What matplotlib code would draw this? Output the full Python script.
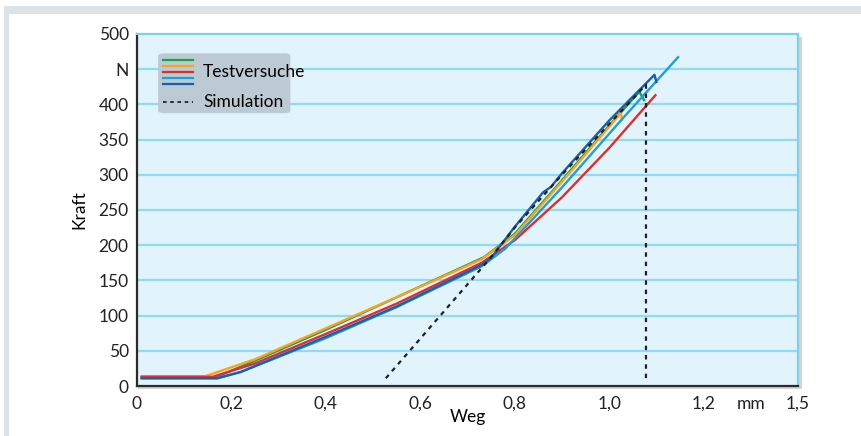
import matplotlib.pyplot as plt
from matplotlib.patches import Rectangle, FancyBboxPatch
from matplotlib.lines import Line2D

# Testversuche (Weg in mm, Kraft in N)
green_x = [0.01, 0.165, 0.25, 0.40, 0.55, 0.735, 0.80, 0.90, 1.00, 1.064, 1.074]
green_y = [12, 12, 36, 80, 126, 183, 216, 292, 370, 418, 406]

orange_x = [0.01, 0.145, 0.25, 0.40, 0.55, 0.73, 0.80, 0.90, 1.00, 1.025, 1.027]
orange_y = [14, 14, 38, 82, 126, 180, 214, 290, 368, 388, 378]

red_x = [0.01, 0.16, 0.25, 0.40, 0.55, 0.73, 0.80, 0.90, 1.00, 1.098]
red_y = [13, 13, 32, 74, 117, 175, 207, 268, 338, 413]

lblue_x = [0.01, 0.17, 0.22, 0.40, 0.55, 0.73, 0.78, 0.90, 1.03, 1.146]
lblue_y = [11, 11, 20, 68, 112, 170, 195, 282, 381, 467]

dblue_x = [0.01, 0.17, 0.22, 0.40, 0.55, 0.73, 0.75, 0.80, 0.86, 0.877, 0.90, 1.00, 1.096, 1.10]
dblue_y = [11, 11, 20, 70, 113, 172, 182, 226, 275, 283, 302, 377, 442, 432]

# Simulation
sim_x = [0.527, 0.75, 0.80, 0.90, 1.00, 1.078, 1.078]
sim_y = [11, 183, 225, 300, 372, 428, 11]

xticks = [0, 0.2, 0.4, 0.6, 0.8, 1.0, 1.2, 1.3, 1.4]
xlabels = ['0', '0,2', '0,4', '0,6', '0,8', '1,0', '1,2', 'mm', '1,5']
yticks = [0, 50, 100, 150, 200, 250, 300, 350, 400, 450, 500]
ylabels = ['0', '50', '100', '150', '200', '250', '300', '350', '400', 'N', '500']

series = [
    (green_x, green_y, '#1ba24b'),
    (orange_x, orange_y, '#f7a51f'),
    (red_x, red_y, '#e62a2c'),
    (lblue_x, lblue_y, '#1f9fd8'),
    (dblue_x, dblue_y, '#1e5ea8'),
]

plt.rcParams['font.family'] = ['Lato', 'DejaVu Sans']
plt.rcParams['font.size'] = 12.5

fig = plt.figure(figsize=(8.62, 4.36), dpi=100)
W, H = 862, 436

# page frame (grey bands top and left)
fig.patches.append(Rectangle((4 / W, 1 - 14 / H), 1, 8 / H, transform=fig.transFigure,
                             facecolor='#dce3e8', edgecolor='none', zorder=-2))
fig.patches.append(Rectangle((4 / W, 0), 5 / W, 1 - 6 / H, transform=fig.transFigure,
                             facecolor='#dce3e8', edgecolor='none', zorder=-2))

left, bottom, right, top = 137 / W, 1 - 386 / H, 798 / W, 1 - 34 / H
# drop shadow behind plot area
fig.patches.append(Rectangle((left + 1 / W, bottom - 3 / H), right - left + 3 / W, top - bottom,
                             transform=fig.transFigure, facecolor='#d4d4d4',
                             edgecolor='none', zorder=-1))

ax = fig.add_axes([left, bottom, right - left, top - bottom])
ax.set_zorder(2)
ax.set_facecolor('#e1f3fb')
ax.set_xlim(0, 1.4)
ax.set_ylim(0, 500)

for y in yticks[1:-1]:
    ax.axhline(y, color='#92d9f3', lw=1.6, zorder=1)

for xs, ys, c in series:
    ax.plot(xs, ys, color=c, lw=1.7, zorder=3)
ax.plot(sim_x, sim_y, color='#222222', lw=1.6, ls=(0, (2, 2.2)), zorder=4)

for side in ['left', 'bottom']:
    ax.spines[side].set_color('#2b2b2b')
    ax.spines[side].set_linewidth(1.6)
for side in ['top', 'right']:
    ax.spines[side].set_color('#7fd0ef')
    ax.spines[side].set_linewidth(1.6)

ax.set_xticks(xticks)
ax.set_xticklabels(xlabels)
ax.set_yticks(yticks)
ax.set_yticklabels(ylabels)
ax.tick_params(axis='both', length=0, labelsize=12.5, colors='#222222')
ax.tick_params(axis='x', pad=7)
ax.tick_params(axis='y', pad=6)
# small inner tick marks
ax.set_xticks([0.2, 0.4, 0.6, 0.8, 1.0, 1.2], minor=True)
ax.set_yticks(yticks[1:-1], minor=True)
ax.tick_params(which='minor', direction='in', length=5, width=1.4, color='#7fd0ef')

ax.set_xlabel('Weg', fontsize=12.5, labelpad=-2)
ax.set_ylabel('Kraft', fontsize=12.5, labelpad=8)

# legend box
box = FancyBboxPatch((0.032, 0.775), 0.2, 0.17, boxstyle='round,pad=0,rounding_size=0.008',
                     transform=ax.transAxes, facecolor='#bccbd3', edgecolor='none', zorder=5)
ax.add_patch(box)
for i, (_, _, c) in enumerate(series):
    yy = 0.925 - i * 0.017
    ax.add_line(Line2D([0.04, 0.085], [yy, yy], transform=ax.transAxes, color=c, lw=1.6, zorder=6))
ax.text(0.1, 0.891, 'Testversuche', transform=ax.transAxes, fontsize=12.5, va='center', zorder=6)
ax.add_line(Line2D([0.04, 0.085], [0.807, 0.807], transform=ax.transAxes, color='#222222',
                   lw=1.3, ls=(0, (2, 2)), zorder=6))
ax.text(0.1, 0.807, 'Simulation', transform=ax.transAxes, fontsize=12.5, va='center', zorder=6)

fig.savefig('out.png', dpi=100)
